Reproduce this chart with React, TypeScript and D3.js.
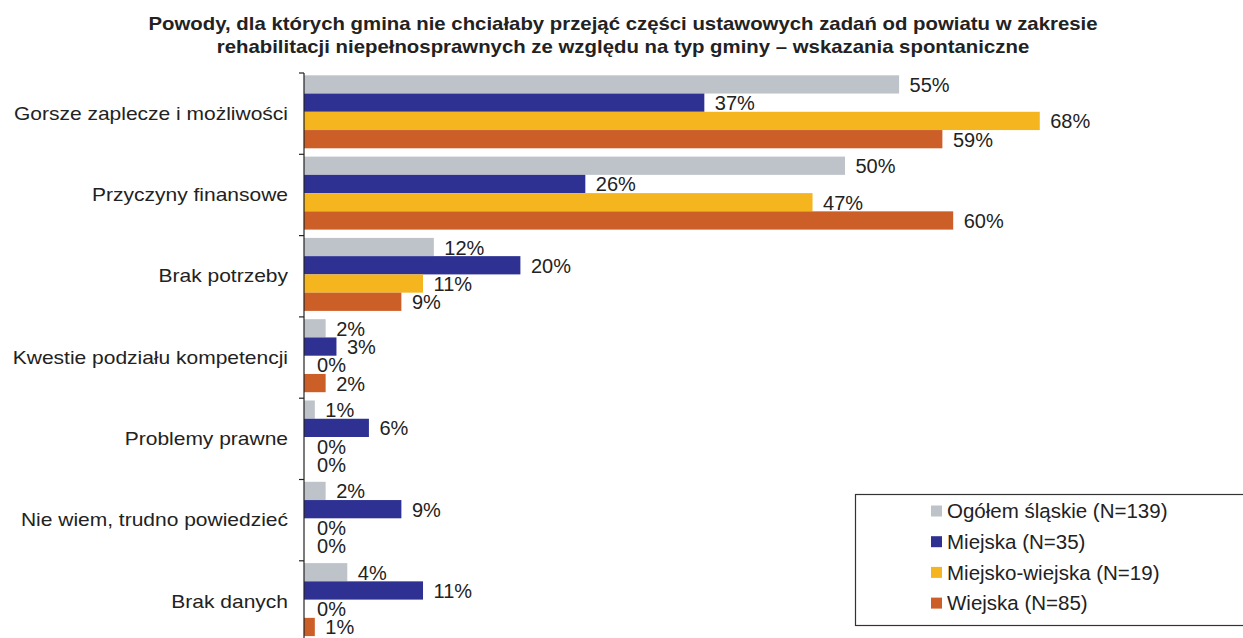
import React from "react";
import * as d3 from "d3";

const categories = [
  "Gorsze zaplecze i możliwości",
  "Przyczyny finansowe",
  "Brak potrzeby",
  "Kwestie podziału kompetencji",
  "Problemy prawne",
  "Nie wiem, trudno powiedzieć",
  "Brak danych",
];
const seriesNames = [
  "Ogółem śląskie (N=139)",
  "Miejska (N=35)",
  "Miejsko-wiejska (N=19)",
  "Wiejska (N=85)",
];
const ogolem = [55, 50, 12, 2, 1, 2, 4];
const miejska = [37, 26, 20, 3, 6, 9, 11];
const miejskoWiejska = [68, 47, 11, 0, 0, 0, 0];
const wiejska = [59, 60, 9, 2, 0, 0, 1];
const seriesValues = [ogolem, miejska, miejskoWiejska, wiejska];
const colors = ["#BEC3CA", "#2E3192", "#F5B51E", "#CC5F27"];
const titleLines = [
  "Powody, dla których gmina nie chciałaby przejąć części ustawowych zadań od powiatu w zakresie",
  "rehabilitacji niepełnosprawnych ze względu na typ gminy – wskazania spontaniczne",
];

const W = 1243;
const H = 638;
const FONT = "Arial, 'Liberation Sans', sans-serif";

function SText(props: {
  x: number;
  y: number;
  sx: number;
  anchor?: "start" | "middle" | "end";
  size: number;
  bold?: boolean;
  dy?: string;
  children: React.ReactNode;
}) {
  const { x, y, sx, anchor, size, bold, dy, children } = props;
  return (
    <text
      transform={`translate(${x},${y}) scale(${sx},1)`}
      textAnchor={anchor || "start"}
      fontSize={size}
      fontWeight={bold ? "bold" : "normal"}
      dy={dy}
      fill="#222"
    >
      {children}
    </text>
  );
}

export default function App() {
  const axisX = 304;
  const x = d3.scaleLinear().domain([0, 100]).range([axisX, axisX + 1082]);
  const y0 = d3
    .scaleBand<string>()
    .domain(categories)
    .range([73, 73 + 81.3 * categories.length])
    .paddingInner(0)
    .paddingOuter(0);
  const inner = d3
    .scaleBand<number>()
    .domain([0, 1, 2, 3])
    .range([2.3, 2.3 + 73]);

  return (
    <svg
      width={W}
      height={H}
      style={{ position: "absolute", left: 0, top: 0, background: "#fff" }}
      fontFamily={FONT}
    >
      {titleLines.map((t, i) => (
        <SText key={i} x={623} y={30 + i * 22.5} sx={1.095} anchor="middle" size={18.6} bold>
          {t}
        </SText>
      ))}
      {categories.map((c, ci) => {
        const gy = y0(c)!;
        return (
          <g key={c}>
            <SText x={288} y={gy + y0.bandwidth() / 2} sx={1.2} anchor="end" size={17.5} dy="0.35em">
              {c}
            </SText>
            {seriesValues.map((vals, si) => {
              const v = vals[ci];
              const by = gy + inner(si)!;
              const bh = inner.bandwidth();
              return (
                <g key={si}>
                  {v > 0 && (
                    <rect
                      x={axisX}
                      y={by}
                      width={x(v) - axisX}
                      height={bh}
                      fill={colors[si]}
                    />
                  )}
                  <text
                    x={x(v) + (v > 0 ? 10.5 : 13)}
                    y={by + bh / 2 + 0.5}
                    dy="0.35em"
                    fontSize={20}
                    fill="#222"
                  >
                    {v}%
                  </text>
                </g>
              );
            })}
          </g>
        );
      })}
      <line x1={axisX} x2={axisX} y1={73} y2={H} stroke="#222" strokeWidth={1.2} />
      {d3.range(categories.length + 1).map((i) => {
        const ty = 73 + i * 81.3;
        return (
          <line key={i} x1={axisX - 5} x2={axisX} y1={ty} y2={ty} stroke="#222" strokeWidth={1.2} />
        );
      })}
      <rect x={855.5} y={494.5} width={400} height={131} fill="#fff" stroke="#333" strokeWidth={1.2} />
      {seriesNames.map((n, i) => {
        const ly = 511 + i * 30.7;
        return (
          <g key={n}>
            <rect x={931} y={ly - 5.5} width={11} height={11} fill={colors[i]} />
            <text x={947} y={ly} dy="0.35em" fontSize={20.5} fill="#222">
              {n}
            </text>
          </g>
        );
      })}
    </svg>
  );
}
